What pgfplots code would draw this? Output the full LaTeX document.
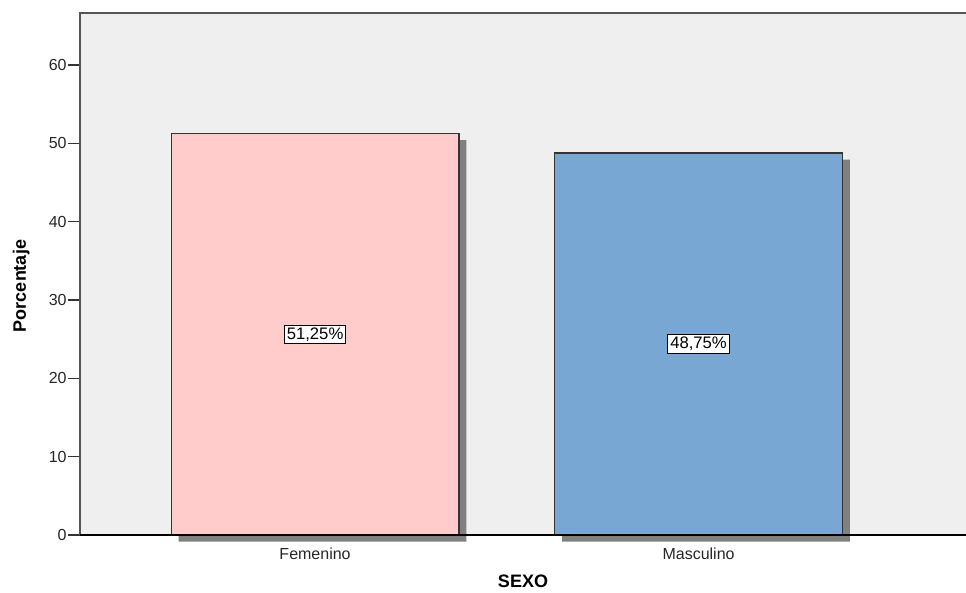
\documentclass[border=0pt]{standalone}
\usepackage{fontspec}
\setmainfont{Liberation Sans}
\usepackage{pgfplots}
\pgfplotsset{compat=1.18}

\definecolor{fembar}{HTML}{FFCBCB}
\definecolor{masbar}{HTML}{79A7D4}
\definecolor{plotbg}{HTML}{EFEFEF}
\definecolor{shadowgray}{HTML}{808080}
\definecolor{framegray}{HTML}{555555}
\definecolor{bardraw}{HTML}{333333}

\begin{document}
\begin{tikzpicture}
% page size: 966x592 px at 0.75pt per px
\useasboundingbox (-60pt,-42.75pt) rectangle (664.5pt,401.25pt);
\begin{axis}[
    at={(0,0)}, anchor=south west,
    scale only axis,
    width=664.5pt, height=391.5pt,
    xmin=-0.613, xmax=1.6975,
    ymin=0, ymax=66.64,
    xtick={0,1}, xticklabels={Femenino, Masculino},
    ytick={0,10,...,60},
    tick align=outside,
    major tick length=9pt,
    xtick style={draw=none},
    ytick style={draw=black!80, line width=0.9pt},
    /pgf/number format/assume math mode=true,
    ticklabel style={font=\fontsize{12}{14}\selectfont, text=black!85},
    xticklabel style={yshift=3pt},
    yticklabel style={xshift=2.5pt},
    axis line style={draw=none},
    axis background/.style={fill=plotbg},
    clip=false,
    xlabel={SEXO}, ylabel={Porcentaje},
    every axis y label/.style={at={(axis description cs:0,0.5)}, xshift=-44pt, yshift=-9pt,
        rotate=90, anchor=center, font=\bfseries\fontsize{13.5}{15}\selectfont},
    every axis x label/.style={at={(axis description cs:0.5,0)}, yshift=-34.5pt,
        anchor=center, font=\bfseries\fontsize{13.5}{15}\selectfont},
    bar width=0.75,
]

% shadows
\addplot[ybar, fill=shadowgray, draw=none, xshift=5.6pt, yshift=-4.9pt]
    coordinates {(0,51.25) (1,48.75)};

% bars
\addplot[ybar, fill=fembar, draw=bardraw, line width=1pt]
    coordinates {(0,51.25)};
\addplot[ybar, fill=masbar, draw=bardraw, line width=1pt]
    coordinates {(1,48.75)};

% value boxes, centred in the bars
\addplot[draw=none, mark=none, nodes near coords, point meta=explicit symbolic,
    every node near coord/.append style={anchor=center, draw=black, fill=white, text=black,
        inner sep=1.8pt, line width=0.6pt, font=\fontsize{12.5}{14}\selectfont}]
    coordinates {(0,25.625) [51,25\%] (1,24.375) [48,75\%]};

% frame: left + top, then baseline
\draw[framegray, line width=1.5pt] (rel axis cs:0,0) -- (rel axis cs:0,1) -- (rel axis cs:1,1);
\draw[black, line width=0.8pt] (rel axis cs:0,0) -- (rel axis cs:1,0);
\end{axis}
\end{tikzpicture}
\end{document}
